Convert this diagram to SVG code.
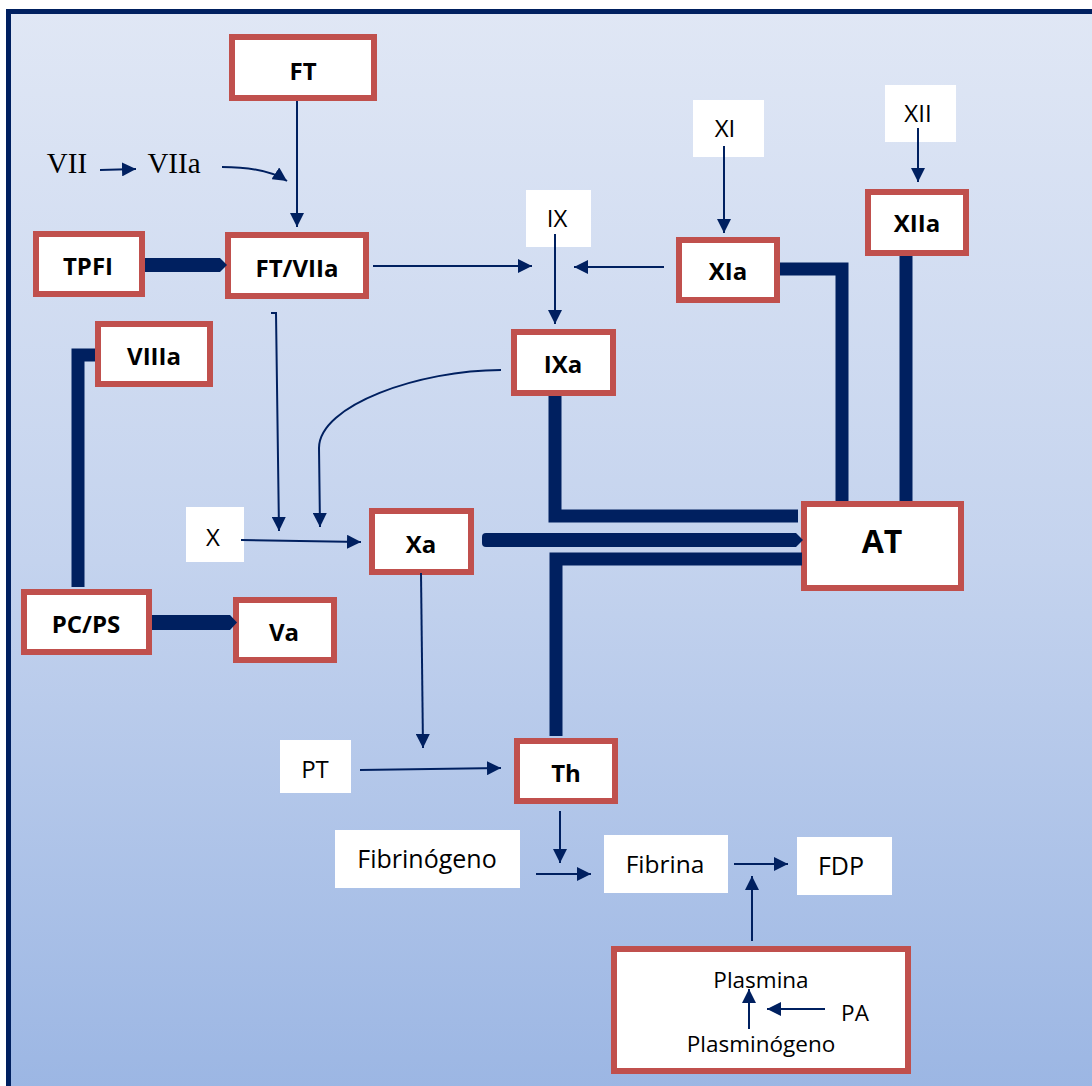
<svg xmlns="http://www.w3.org/2000/svg" width="1092" height="1086" viewBox="0 0 1092 1086">
<defs>
<linearGradient id="bg" x1="0" y1="0" x2="0" y2="1">
<stop offset="0" stop-color="#e0e7f5"/>
<stop offset="0.5" stop-color="#c4d3ee"/>
<stop offset="1" stop-color="#9ab5e3"/>
</linearGradient>
<marker id="ah" viewBox="0 0 14 14" refX="14" refY="7" markerWidth="14" markerHeight="14" markerUnits="userSpaceOnUse" orient="auto">
<path d="M0,0 L14,7 L0,14 z" fill="#002060"/>
</marker>
<style>
.node{fill:#fff;stroke:#c0504d;stroke-width:6}
.plain{fill:#fff}
.b{font-family:"Open Sans","Liberation Sans",sans-serif;font-weight:bold;font-size:24px;fill:#000;text-anchor:middle}
.r{font-family:"Open Sans","Liberation Sans",sans-serif;font-size:24px;fill:#000;text-anchor:middle}
.s{font-family:"Liberation Serif",serif;font-size:29px;fill:#000;text-anchor:middle}
.thin{fill:none;stroke:#002060;stroke-width:2;marker-end:url(#ah)}
.thick{fill:none;stroke:#002060;stroke-width:13;stroke-linejoin:miter}
.pt{fill:#002060}
</style>
</defs>
<rect x="8.5" y="11.5" width="1100" height="1100" fill="url(#bg)" stroke="#002060" stroke-width="5"/>

<g id="VII"><text class="s" x="67" y="173">VII</text></g>
<g id="VIIa"><text class="s" x="174" y="173">VIIa</text></g>
<g id="FT"><rect class="node" x="232" y="37" width="142" height="61"/><text class="b" x="303" y="80">FT</text></g>
<g id="TPFI"><rect class="node" x="36" y="234" width="106" height="60"/><text class="b" x="88" y="275">TPFI</text></g>
<g id="FTVIIa"><rect class="node" x="228" y="235" width="138" height="61"/><text class="b" x="297" y="277">FT/VIIa</text></g>
<g id="XI"><rect class="plain" x="693" y="100" width="71" height="57"/><text class="r" x="725" y="137">XI</text></g>
<g id="IX"><rect class="plain" x="526" y="190" width="65" height="57"/><text class="r" x="557" y="227">IX</text></g>
<g id="XII"><rect class="plain" x="885" y="85" width="71" height="57"/><text class="r" x="918" y="122">XII</text></g>
<g id="XIa"><rect class="node" x="679" y="240" width="98" height="60"/><text class="b" x="728" y="280">XIa</text></g>
<g id="IXa"><rect class="node" x="514" y="332" width="99" height="61"/><text class="b" x="563" y="373">IXa</text></g>
<g id="XIIa"><rect class="node" x="868" y="192" width="98" height="61"/><text class="b" x="917" y="232">XIIa</text></g>
<g id="AT"><rect class="node" x="804" y="504" width="157" height="84"/><text class="b" x="882" y="553" style="font-size:32px">AT</text></g>
<g id="VIIIa"><rect class="node" x="98" y="324" width="112" height="60"/><text class="b" x="154" y="365">VIIIa</text></g>
<g id="X"><rect class="plain" x="186" y="507" width="58" height="55"/><text class="r" x="213" y="546">X</text></g>
<g id="Xa"><rect class="node" x="372" y="511" width="99" height="61"/><text class="b" x="421" y="553">Xa</text></g>
<g id="PCPS"><rect class="node" x="24" y="592" width="125" height="60"/><text class="b" x="86" y="633">PC/PS</text></g>
<g id="Va"><rect class="node" x="236" y="600" width="98" height="60"/><text class="b" x="284" y="641">Va</text></g>
<g id="PT"><rect class="plain" x="280" y="740" width="71" height="53"/><text class="r" x="315" y="778">PT</text></g>
<g id="Th"><rect class="node" x="517" y="741" width="98" height="60"/><text class="b" x="566" y="782">Th</text></g>
<g id="Fibrinogeno"><rect class="plain" x="335" y="830" width="185" height="58"/><text class="r" x="427" y="868" style="font-size:25px">Fibrinógeno</text></g>
<g id="Fibrina"><rect class="plain" x="604" y="835" width="124" height="58"/><text class="r" x="665" y="873" style="font-size:24.5px">Fibrina</text></g>
<g id="FDP"><rect class="plain" x="797" y="837" width="95" height="58"/><text class="r" x="841" y="875" style="font-size:25px">FDP</text></g>
<g id="Plasmina"><rect class="node" x="614" y="949" width="294" height="122"/>
<text class="r" x="761" y="988" style="font-size:22.5px">Plasmina</text>
<text class="r" x="855" y="1021" style="font-size:22.5px">PA</text>
<text class="r" x="761" y="1052" style="font-size:22.5px">Plasminógeno</text>
</g>

<g id="connectors">
<path class="thin" d="M100,170 L136,169"/>
<path class="thin" d="M222,167 Q266,167 287,181"/>
<path class="thin" d="M297,101 L297,227"/>
<path class="thin" d="M373,266 L532,266"/>
<path class="thin" d="M664,267 L574,267"/>
<path class="thin" d="M724,146 L724,233"/>
<path class="thin" d="M555,234 L555,324"/>
<path class="thin" d="M918,128 L918,182"/>
<path class="thin" d="M271,313 H276 L279,531"/>
<path class="thin" d="M501,370 C420,370 319,405 319,448 L320,527"/>
<path class="thin" d="M241,540 L361,542"/>
<path class="thin" d="M421,573 L423,748"/>
<path class="thin" d="M360,770 L501,768"/>
<path class="thin" d="M560,811 L560,863"/>
<path class="thin" d="M536,874 L591,874"/>
<path class="thin" d="M734,864 L788,864"/>
<path class="thin" d="M752,941 L752,876"/>
<path class="thin" d="M749,1029 L749,989"/>
<path class="thin" d="M825,1009 L767,1009"/>
<path class="thick" d="M780,269 H842 V501"/>
<path class="thick" d="M906,256 V501"/>
<path class="thick" d="M555,396 V516 H798"/>
<path class="thick" d="M556,736 V559 H802"/>
<path class="thick" d="M78,587 V355 H95"/>
<path class="pt" d="M145,258 H220 L227,265 L220,272 H145 Z"/>
<path class="pt" d="M152,615 H230 L237,622.5 L230,630 H152 Z"/>
<path class="pt" d="M486,533 H796 L803,540 L796,547 H486 Q482,547 482,543 V537 Q482,533 486,533 Z"/>
</g>
</svg>
